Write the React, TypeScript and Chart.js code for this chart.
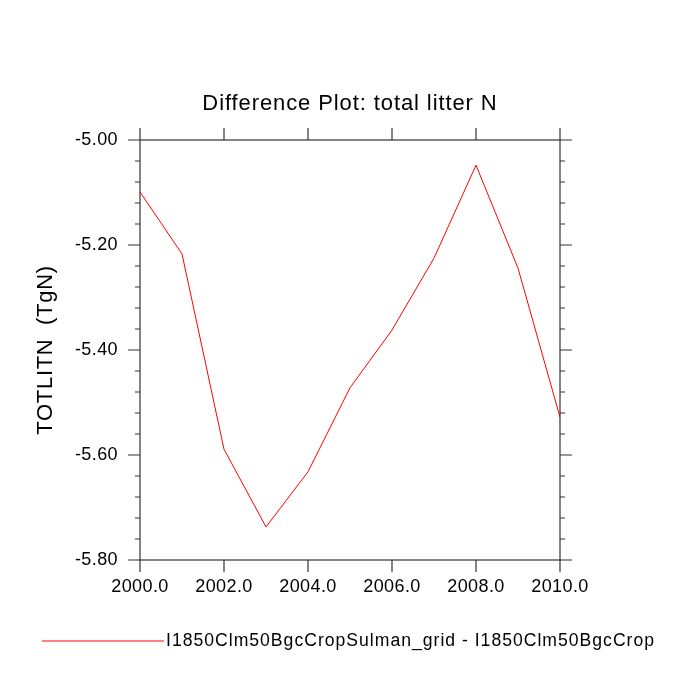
import { useEffect, useRef } from "react"
import { Chart, registerables } from "chart.js"

Chart.register(...registerables)

const years = [2000, 2001, 2002, 2003, 2004, 2005, 2006, 2007, 2008, 2009, 2010]
const diff = [-5.099, -5.217, -5.589, -5.737, -5.632, -5.472, -5.362, -5.225, -5.048, -5.244, -5.528]
const xTicks = [2000, 2002, 2004, 2006, 2008, 2010]
const yTicks = [-5.0, -5.2, -5.4, -5.6, -5.8]
const seriesLabel = "I1850Clm50BgcCropSulman_grid - I1850Clm50BgcCrop"

const FONT = "Helvetica, 'Liberation Sans', Arial, sans-serif"

// NCL-style frame, ticks and labels drawn from the chart's own scales
const framePlugin = {
  id: "frame",
  afterDraw(chart: Chart) {
    const { ctx, chartArea: a } = chart
    const c = ctx as any
    const x = chart.scales.x
    const y = chart.scales.y
    ctx.save()
    ctx.strokeStyle = "#333"
    ctx.lineWidth = 1.2
    ctx.strokeRect(a.left, a.top, a.right - a.left, a.bottom - a.top)
    ctx.beginPath()
    for (const v of xTicks) {
      const px = x.getPixelForValue(v)
      ctx.moveTo(px, a.bottom); ctx.lineTo(px, a.bottom + 12)
      ctx.moveTo(px, a.top); ctx.lineTo(px, a.top - 12)
    }
    for (let v = -5.8; v <= -4.999; v += 0.04) {
      const py = y.getPixelForValue(v)
      const major = yTicks.some((t) => Math.abs(t - v) < 1e-6)
      const len = major ? 12 : 5
      ctx.moveTo(a.left, py); ctx.lineTo(a.left - len, py)
      ctx.moveTo(a.right, py); ctx.lineTo(a.right + len, py)
    }
    ctx.stroke()

    ctx.fillStyle = "#000"
    ctx.font = `18px ${FONT}`
    c.letterSpacing = "0.4px"
    ctx.textAlign = "center"
    ctx.textBaseline = "top"
    for (const v of xTicks) ctx.fillText(v.toFixed(1), x.getPixelForValue(v), a.bottom + 18)
    ctx.textAlign = "right"
    ctx.textBaseline = "middle"
    for (const v of yTicks) ctx.fillText(v.toFixed(2), a.left - 22, y.getPixelForValue(v))

    ctx.font = `22px ${FONT}`
    c.letterSpacing = "0.9px"
    ctx.textAlign = "center"
    ctx.textBaseline = "alphabetic"
    ctx.fillText("Difference Plot: total litter N", (a.left + a.right) / 2, 110)

    ctx.save()
    ctx.translate(46, (a.top + a.bottom) / 2)
    ctx.rotate(-Math.PI / 2)
    ctx.textBaseline = "middle"
    c.letterSpacing = "0.7px"
    ctx.fillText("TOTLITN  (TgN)", 0, 0)
    ctx.restore()

    ctx.strokeStyle = "red"
    ctx.lineWidth = 1
    ctx.beginPath()
    ctx.moveTo(42, 641); ctx.lineTo(164, 641)
    ctx.stroke()
    ctx.font = `17.6px ${FONT}`
    c.letterSpacing = "1px"
    ctx.textAlign = "left"
    ctx.textBaseline = "middle"
    ctx.fillText(seriesLabel, 166, 641)
    ctx.restore()
  },
}

export default function App() {
  const chartRef = useRef<HTMLCanvasElement>(null)
  const chartInstance = useRef<Chart | null>(null)

  useEffect(() => {
    if (!chartRef.current) return
    if (chartInstance.current) chartInstance.current.destroy()
    const ctx = chartRef.current.getContext("2d")
    if (!ctx) return

    chartInstance.current = new Chart(ctx, {
      type: "line",
      data: {
        datasets: [
          {
            label: seriesLabel,
            data: years.map((yr, i) => ({ x: yr, y: diff[i] })),
            borderColor: "red",
            borderWidth: 1,
            pointRadius: 0,
            tension: 0,
          },
        ],
      },
      options: {
        responsive: false,
        animation: false,
        layout: { padding: { left: 140, right: 140, top: 140, bottom: 140 } },
        scales: {
          x: { type: "linear", min: 2000, max: 2010, display: false },
          y: { type: "linear", min: -5.8, max: -5.0, display: false },
        },
        plugins: { legend: { display: false }, tooltip: { enabled: false } },
      },
      plugins: [framePlugin],
    })

    return () => {
      if (chartInstance.current) chartInstance.current.destroy()
    }
  }, [])

  return (
    <div style={{ position: "fixed", left: 0, top: 0, width: 700, height: 700, background: "#fff" }}>
      <canvas ref={chartRef} width={700} height={700} />
    </div>
  )
}
